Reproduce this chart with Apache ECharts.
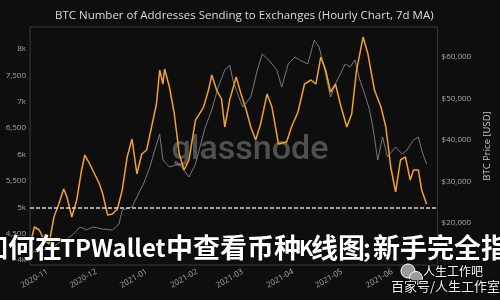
<!DOCTYPE html>
<html>
<head>
<meta charset="utf-8">
<script src="https://cdn.jsdelivr.net/npm/echarts@6/dist/echarts.min.js"></script>
<style>
html,body{margin:0;padding:0;background:#0e0e0e;}
#chart{width:500px;height:300px;}
</style>
</head>
<body>
<div id="chart"></div>
<script>
const titleText = 'BTC Number of Addresses Sending to Exchanges (Hourly Chart, 7d MA)';
const priceAxisName = 'BTC Price [USD]';

const addrDates = ['2020-10-21','2020-10-24','2020-10-27','2020-10-30','2020-11-02','2020-11-05','2020-11-08','2020-11-11','2020-11-13','2020-11-16','2020-11-19','2020-11-22','2020-11-24','2020-11-27','2020-11-30','2020-12-03','2020-12-05','2020-12-08','2020-12-11','2020-12-14','2020-12-17','2020-12-20','2020-12-23','2020-12-26','2020-12-29','2021-01-01','2021-01-04','2021-01-07','2021-01-09','2021-01-11','2021-01-12','2021-01-15','2021-01-18','2021-01-21','2021-01-24','2021-01-27','2021-01-31','2021-02-05','2021-02-08','2021-02-10','2021-02-13','2021-02-16','2021-02-18','2021-02-21','2021-02-25','2021-02-28','2021-03-03','2021-03-06','2021-03-09','2021-03-12','2021-03-16','2021-03-19','2021-03-23','2021-03-28','2021-03-31','2021-04-04','2021-04-08','2021-04-12','2021-04-15','2021-04-18','2021-04-21','2021-04-24','2021-04-27','2021-04-30','2021-05-04','2021-05-07','2021-05-10','2021-05-14','2021-05-17','2021-05-21','2021-05-25','2021-05-28','2021-05-31','2021-06-03','2021-06-06','2021-06-09','2021-06-12','2021-06-14','2021-06-17','2021-06-19','2021-06-22'];
const addrCounts = [4250,4629,4572,4383,4307,4818,5064,5348,5197,4818,5140,5708,5992,5822,5633,5443,5254,4856,4875,4970,5330,5955,6295,5633,6011,6087,6523,6958,7602,7337,7621,7280,6769,6011,5708,5898,6655,6901,7223,7508,7223,7053,6523,7034,7470,7148,6864,6523,6276,6580,7148,6901,6201,6239,6523,6807,7337,7413,7337,7848,7602,7186,7337,6958,6523,6769,7602,8227,7905,7223,6901,6523,5765,5292,5898,5955,5519,5708,5708,5330,5064];

const priceDates = ['2020-10-21','2020-10-27','2020-11-02','2020-11-08','2020-11-13','2020-11-17','2020-11-21','2020-11-25','2020-11-29','2020-12-05','2020-12-11','2020-12-15','2020-12-17','2020-12-23','2020-12-26','2020-12-30','2021-01-03','2021-01-06','2021-01-09','2021-01-11','2021-01-15','2021-01-21','2021-01-27','2021-01-31','2021-02-06','2021-02-10','2021-02-14','2021-02-18','2021-02-21','2021-02-23','2021-02-26','2021-03-01','2021-03-06','2021-03-10','2021-03-13','2021-03-17','2021-03-22','2021-03-25','2021-03-29','2021-04-02','2021-04-05','2021-04-10','2021-04-14','2021-04-17','2021-04-20','2021-04-24','2021-04-27','2021-04-30','2021-05-03','2021-05-06','2021-05-09','2021-05-12','2021-05-15','2021-05-18','2021-05-20','2021-05-23','2021-05-26','2021-05-29','2021-06-03','2021-06-07','2021-06-10','2021-06-14','2021-06-17','2021-06-19','2021-06-22'];
const priceUsd = [12900,13300,13700,15200,16100,17343,19030,18307,19030,18548,18307,19753,23127,23850,26260,29393,33490,37587,41443,35177,33490,34213,31080,34213,43130,47227,52770,56867,58072,54457,51083,47950,50360,56867,60723,59277,56867,52770,58313,60000,59277,58313,64097,62410,57590,50360,53493,55903,58313,57590,59277,54457,51083,47227,43130,35177,40720,35900,38310,36623,37587,39997,40720,37587,34213];

const monthTicks = ['2020-11-01','2020-12-01','2021-01-01','2021-02-01','2021-03-01','2021-04-01','2021-05-01','2021-06-01'];
const addrTicks = [4000,4500,5000,5500,6000,6500,7000,7500,8000];
const priceTicks = [20000,30000,40000,50000,60000];
const thresholdLine = 5000;

const overlaySegments = [
  {text:'如何在', x:-19, size:27},
  {text:'TPWallet', x:60, size:24},
  {text:'中查看币种', x:166, size:27},
  {text:'K', x:299, size:21},
  {text:'线图', x:311, size:27},
  {text:';', x:363, size:24},
  {text:'新手完全指南', x:373, size:27}
];

const P = echarts.number.parseDate;
const addrData = addrDates.map((d,i)=>[P(d).getTime(), addrCounts[i]]);
const priceData = priceDates.map((d,i)=>[P(d).getTime(), priceUsd[i]]);
const monthVals = monthTicks.map(d=>P(d).getTime());
const pad = n => (n<10?'0':'')+n;

const chart = echarts.init(document.getElementById('chart'), null, {renderer:'canvas'});
const graphics = [
  {type:'text', x:250, y:150, z:1, silent:true,
   style:{text:'glassnode', fill:'rgba(125,125,125,0.6)', font:'500 34px Roboto', align:'center', verticalAlign:'middle'}},
  {type:'circle', shape:{cx:408, cy:271, r:7}, z:110, style:{fill:'#9a9a9a', stroke:'#fff', lineWidth:1}},
  {type:'circle', shape:{cx:416, cy:278, r:6.5}, z:111, style:{fill:'#9a9a9a', stroke:'#fff', lineWidth:1}},
  {type:'text', x:423, y:271, z:112, style:{text:'人生工作吧', fill:'#ffffff', font:'12px "Noto Sans CJK SC"', verticalAlign:'middle', stroke:'#000', lineWidth:2}},
  {type:'text', x:391, y:286, z:112, style:{text:'百家号/人生工作室', fill:'#f0f0f0', font:'13px "Noto Sans CJK SC"', verticalAlign:'middle', stroke:'#000', lineWidth:2}}
];
overlaySegments.forEach(s=>{
  graphics.push({type:'text', x:s.x, y:248, z:100, silent:true,
    style:{text:s.text, fill:'#ffffff', font:'bold '+s.size+'px "Noto Sans CJK SC"', verticalAlign:'middle', align:'left', stroke:'#000', lineWidth:1}});
});

chart.setOption({
  backgroundColor:'#0e0e0e',
  animation:false,
  title:{text:titleText, left:55, top:10, padding:0,
    textStyle:{color:'#dcdcdc', fontSize:11.5, fontWeight:'normal', fontFamily:'"Open Sans"'}},
  grid:{left:30, right:48, top:27, bottom:35, show:true, borderColor:'#3a3a3a', borderWidth:1, backgroundColor:'transparent'},
  xAxis:{type:'value', min:P('2020-10-21 07:00').getTime(), max:P('2021-06-28 19:00').getTime(),
    axisLine:{show:false}, axisTick:{show:false}, splitLine:{show:false},
    axisLabel:{customValues:monthVals, rotate:30, color:'#a8a8a8', fontSize:8, fontFamily:'"Open Sans"', margin:6,
      formatter:v=>{const d=new Date(v); return d.getFullYear()+'-'+pad(d.getMonth()+1);}}},
  yAxis:[
    {type:'value', position:'left', min:3909, max:8417, axisLine:{show:false}, axisTick:{show:false}, splitLine:{show:false},
     axisLabel:{customValues:addrTicks, color:'#a8a8a8', fontSize:8, fontFamily:'"Open Sans"', margin:4,
       formatter:v=> (v%1000===0 ? (v/1000)+'k' : v.toLocaleString('en-US'))}},
    {type:'value', position:'right', min:9880, max:67230, axisLine:{show:false}, axisTick:{show:false}, splitLine:{show:false},
     name:priceAxisName, nameLocation:'middle', nameGap:34, nameRotate:90,
     nameTextStyle:{color:'#c8c8c8', fontSize:9.5, fontFamily:'"Open Sans"'},
     axisLabel:{customValues:priceTicks, color:'#a8a8a8', fontSize:8, fontFamily:'"Open Sans"', margin:4,
       formatter:v=>'$'+v.toLocaleString('en-US')}}
  ],
  series:[
    {name:'Price', type:'line', yAxisIndex:1, data:priceData, showSymbol:false, clip:false,
     lineStyle:{color:'#8a8a8a', width:1, opacity:0.85}, z:3},
    {name:'Addresses', type:'line', yAxisIndex:0, data:addrData, showSymbol:false, clip:false,
     lineStyle:{color:'#f2a22e', width:1.5}, z:4,
     markLine:{symbol:'none', silent:true, label:{show:false}, animation:false,
       lineStyle:{color:'#d8d8d8', type:[4,2], width:1.5}, data:[{yAxis:thresholdLine}]}}
  ],
  graphic:graphics
});
</script>
</body>
</html>
